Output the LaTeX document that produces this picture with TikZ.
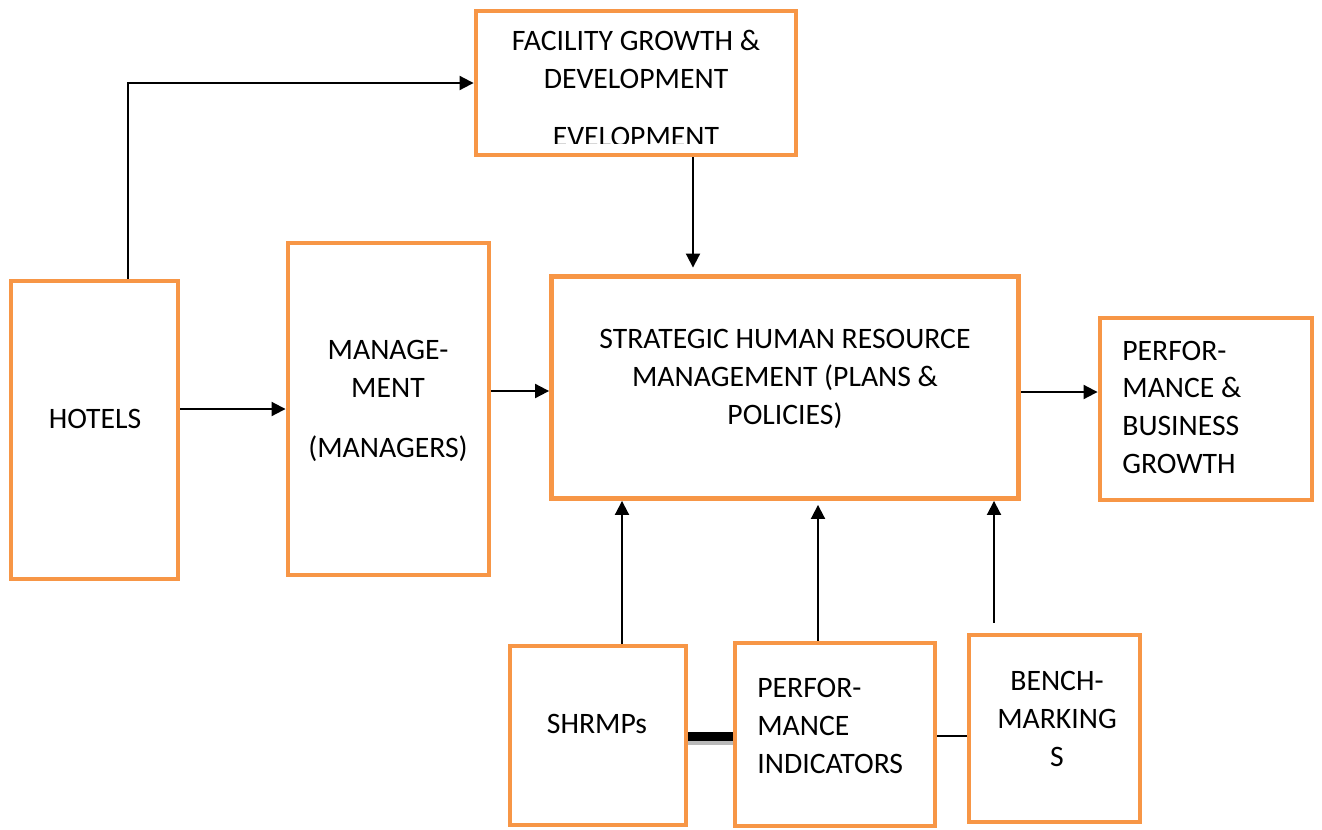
\documentclass[tikz,border=0pt]{standalone}
\usepackage{fontspec}
\setmainfont{Carlito}
\usetikzlibrary{arrows.meta}
\definecolor{arancio}{RGB}{247,150,70}

\begin{document}
\begin{tikzpicture}[x=0.02cm, y=-0.02cm,
  font=\fontsize{16.9}{21.5}\selectfont,
  riquadro/.style={draw=arancio, line width=2.8pt, inner sep=0pt},
  freccia/.style={-{Triangle[length=0.28cm, width=0.28cm]}, line width=1.1pt},
  testo/.style={inner sep=0pt, anchor=base}]
  \useasboundingbox (0,0) rectangle (1322,829);

  % Riquadri
  \node[riquadro, minimum width=6.4cm, minimum height=2.88cm] (fgd) at (636,83) {};
  \node[riquadro, minimum width=3.34cm, minimum height=5.96cm] (hotels) at (94.5,430) {};
  \node[riquadro, minimum width=4.02cm, minimum height=6.64cm] (mgmt) at (388.5,409) {};
  \node[riquadro, minimum width=9.34cm, minimum height=4.44cm] (shrm) at (785,387.5) {};
  \node[riquadro, minimum width=4.24cm, minimum height=3.64cm] (perf) at (1206,409) {};
  \node[riquadro, minimum width=3.52cm, minimum height=3.58cm] (shrmps) at (598,735.5) {};
  \node[riquadro, minimum width=4.0cm, minimum height=3.66cm] (indic) at (835,734.5) {};
  \node[riquadro, minimum width=3.42cm, minimum height=3.74cm] (bench) at (1054.5,728.5) {};

  % Testi dei riquadri (base = ultima riga)
  \node[testo, align=center] (tfgd) at (636,88.5) {FACILITY GROWTH \&\\DEVELOPMENT};
  \begin{scope}
    \clip (478,13) rectangle (794,143);
    \node[testo] (tfgd2) at (636,146.5) {EVELOPMENT};
  \end{scope}
  \node[testo] (thotels) at (95,428.5) {HOTELS};
  \node[testo, align=center] (tmgmt) at (388,457.5) {MANAGE-\\MENT\\[0.44cm](MANAGERS)};
  \node[testo, align=center] (tshrm) at (785,424.5) {STRATEGIC HUMAN RESOURCE\\MANAGEMENT (PLANS \&\\POLICIES)};
  \node[testo, anchor=base west, align=left] (tperf) at (1122,473.5) {PERFOR-\\MANCE \&\\BUSINESS\\GROWTH};
  \node[testo] (tshrmps) at (597,733.5) {SHRMPs};
  \node[testo, anchor=base west, align=left] (tindic) at (757,773.5) {PERFOR-\\MANCE\\INDICATORS};
  \node[testo, align=center] (tbench) at (1057,766.5) {BENCH-\\MARKING\\S};

  % Frecce orizzontali
  \coordinate (angolo) at (128,83);
  \draw[freccia] (hotels.north -| angolo) -- (angolo) -- (fgd.west);
  \draw[freccia] (hotels.east |- mgmt.west) -- (mgmt.west);
  \draw[freccia] (mgmt.east |- 0,391) -- (shrm.west |- 0,391);
  \draw[freccia] (shrm.east |- 0,392) -- (perf.west |- 0,392);

  % Frecce verticali
  \draw[freccia, shorten >=0.13cm] (693,0 |- fgd.south) -- (693,0 |- shrm.north);
  \draw[freccia] (622,0 |- shrmps.north) -- (622,0 |- shrm.south);
  \draw[freccia, shorten >=0.08cm] (818,0 |- indic.north) -- (818,0 |- shrm.south);
  \draw[freccia, shorten <=0.2cm] (994,0 |- bench.north) -- (994,0 |- shrm.south);

  % Collegamenti in basso
  \draw[gray!55, line width=0.12cm] (shrmps.east |- 0,742) -- (indic.west |- 0,742);
  \draw[black, line width=0.18cm] (shrmps.east |- 0,736) -- (indic.west |- 0,736);
  \draw[line width=1.1pt] (indic.east |- 0,736) -- (bench.west |- 0,736);
\end{tikzpicture}
\end{document}
